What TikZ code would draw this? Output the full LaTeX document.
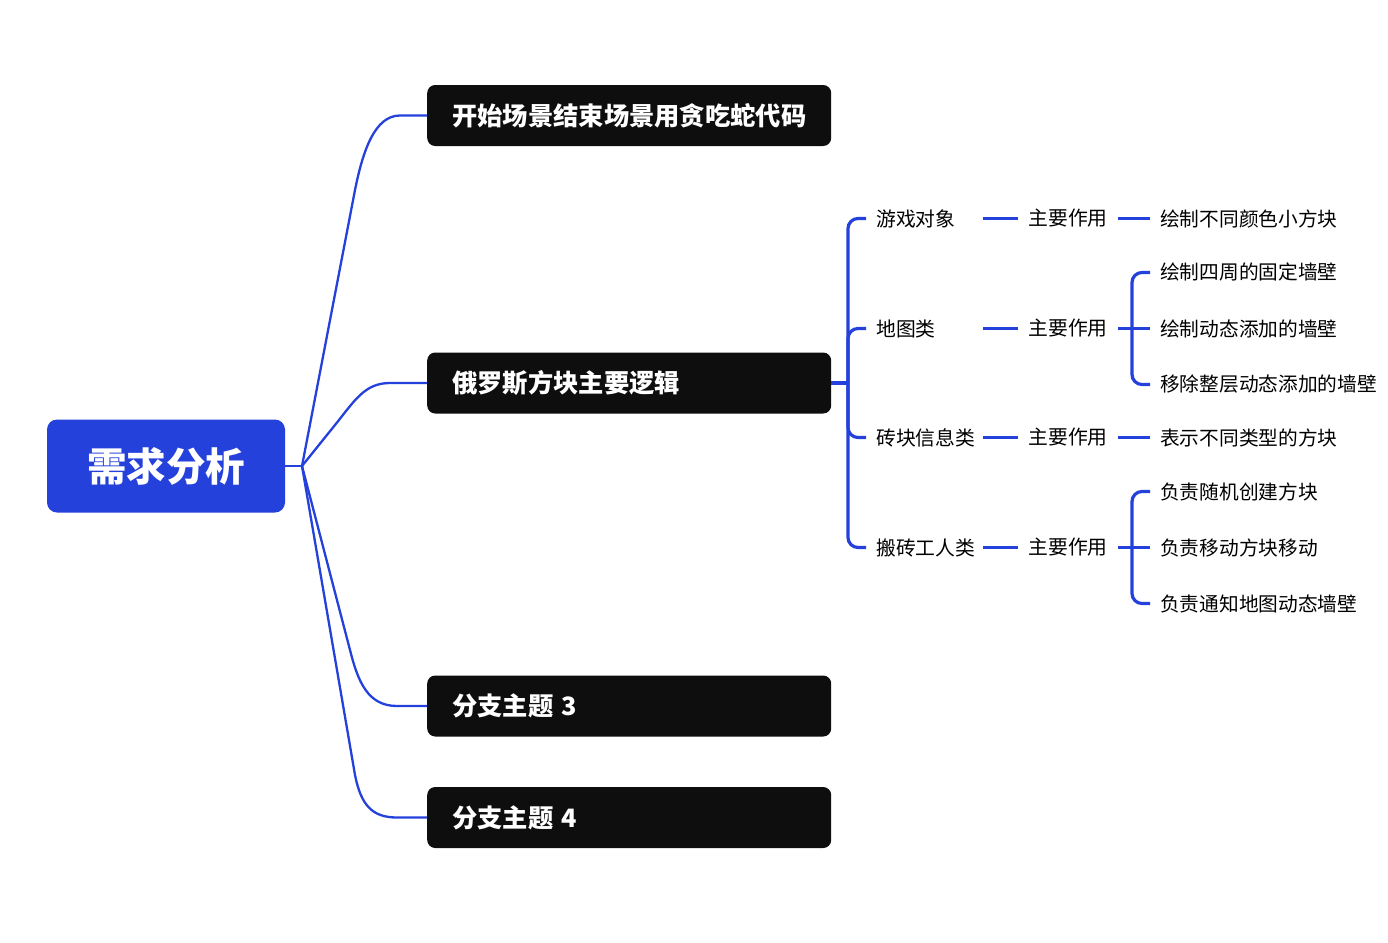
\documentclass[tikz,border=0pt]{standalone}
\usepackage{fontspec}
\setmainfont{Noto Sans CJK SC}
\definecolor{mblue}{HTML}{2541DB}
\definecolor{mblack}{HTML}{0E0E0E}
\begin{document}
\begin{tikzpicture}[x=1pt,y=-1pt,
  rootbox/.style={fill=mblue, rounded corners=10pt, minimum width=238pt, minimum height=93pt, text=white, font=\fontsize{39.5}{41}\selectfont\bfseries, inner sep=0pt},
  topic/.style={fill=mblack, rounded corners=8pt, anchor=west, minimum width=404pt, minimum height=61pt, text width=354pt, align=left, inner xsep=25pt, inner ysep=0pt, text=white, font=\fontsize{25.3}{27}\selectfont\bfseries},
  sub/.style={anchor=west, text width=97pt, align=left, inner xsep=10pt, inner ysep=2pt, font=\fontsize{19.8}{22}\selectfont},
  role/.style={inner xsep=10pt, inner ysep=2pt, font=\fontsize{19.8}{22}\selectfont},
  leaf/.style={anchor=west, inner xsep=10pt, inner ysep=2pt, font=\fontsize{19.7}{22}\selectfont},
  lnk/.style={draw=mblue, line width=2.3pt},
  blnk/.style={draw=mblue, line width=3.2pt, rounded corners=10pt}]
\useasboundingbox (0,0) rectangle (1388,942);

% root and topics
\node[rootbox] (root) at (166,466) {需求分析};
\coordinate (hub) at (302,466);
\node[topic] (b1) at (427,115.5) {开始场景结束场景用贪吃蛇代码};
\node[topic] (b2) at (427,383) {俄罗斯方块主要逻辑};
\node[topic] (b3) at (427,706) {分支主题 3};
\node[topic] (b4) at (427,817.5) {分支主题 4};

\draw[lnk] (root.east) -- (hub);
\draw[lnk] (hub) -- (355,190) .. controls (363,150) and (375,115.5) .. (400,115.5) -- (b1.west);
\draw[lnk] (hub) -- (335,425) .. controls (355,400) and (365,383) .. (390,383) -- (b2.west);
\draw[lnk] (hub) -- (350,650) .. controls (358,682) and (368,706) .. (397,706) -- (b3.west);
\draw[lnk] (hub) -- (355,775) .. controls (361,805) and (372,817.5) .. (397,817.5) -- (b4.west);

% second level
\coordinate (j1) at (848,383);
\node[sub] (t1) at (866,218.5) {游戏对象};
\node[sub] (t2) at (866,328.5) {地图类};
\node[sub] (t3) at (866,437.5) {砖块信息类};
\node[sub] (t4) at (866,547.5) {搬砖工人类};
\draw[blnk] (b2.east) -- (j1);
\draw[blnk] (j1) |- (t1.west);
\draw[blnk] (j1) |- (t2.west);
\draw[blnk] (j1) |- (t3.west);
\draw[blnk] (j1) |- (t4.west);

% roles
\node[role] (m1) at (1068,218.5) {主要作用};
\node[role] (m2) at (1068,328.5) {主要作用};
\node[role] (m3) at (1068,437.5) {主要作用};
\node[role] (m4) at (1068,547.5) {主要作用};
\draw[blnk] (t1.east) -- (m1.west);
\draw[blnk] (t2.east) -- (m2.west);
\draw[blnk] (t3.east) -- (m3.west);
\draw[blnk] (t4.east) -- (m4.west);

% leaves
\node[leaf] (c1) at (1150,218.5) {绘制不同颜色小方块};
\draw[blnk] (m1.east) -- (c1.west);

\coordinate (j2) at (1132,328.5);
\node[leaf] (c21) at (1150,272.5) {绘制四周的固定墙壁};
\node[leaf] (c22) at (1150,328.5) {绘制动态添加的墙壁};
\node[leaf] (c23) at (1150,384.5) {移除整层动态添加的墙壁};
\draw[blnk] (m2.east) -- (c22.west);
\draw[blnk] (j2) |- (c21.west);
\draw[blnk] (j2) |- (c23.west);

\node[leaf] (c3) at (1150,437.5) {表示不同类型的方块};
\draw[blnk] (m3.east) -- (c3.west);

\coordinate (j4) at (1132,547.5);
\node[leaf] (c41) at (1150,491.5) {负责随机创建方块};
\node[leaf] (c42) at (1150,547.5) {负责移动方块移动};
\node[leaf] (c43) at (1150,603.5) {负责通知地图动态墙壁};
\draw[blnk] (m4.east) -- (c42.west);
\draw[blnk] (j4) |- (c41.west);
\draw[blnk] (j4) |- (c43.west);
\end{tikzpicture}
\end{document}
